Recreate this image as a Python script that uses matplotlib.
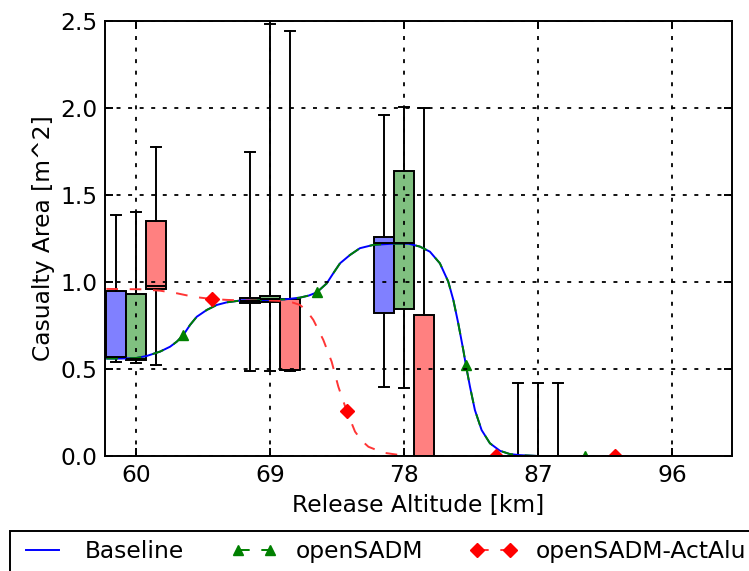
import numpy as np
import matplotlib
matplotlib.use("Agg")
import matplotlib.pyplot as plt

# box statistics per release altitude group
groups = [60, 69, 78, 87]
offset = 1.35

base_whislo = [0.542, 0.488, 0.395, 0.0]
base_q1 = [0.567, 0.877, 0.820, 0.0]
base_med = [0.570, 0.890, 1.222, 0.0]
base_q3 = [0.950, 0.910, 1.259, 0.0]
base_whishi = [1.385, 1.747, 1.958, 0.421]

sadm_whislo = [0.536, 0.488, 0.389, 0.0]
sadm_q1 = [0.552, 0.887, 0.843, 0.0]
sadm_med = [0.560, 0.900, 1.226, 0.0]
sadm_q3 = [0.931, 0.920, 1.636, 0.0]
sadm_whishi = [1.404, 2.481, 2.008, 0.421]

alu_whislo = [0.523, 0.488, 0.0, 0.0]
alu_q1 = [0.958, 0.494, 0.0, 0.0]
alu_med = [0.977, 0.494, 0.0, 0.0]
alu_q3 = [1.350, 0.902, 0.810, 0.0]
alu_whishi = [1.778, 2.443, 1.998, 0.421]

# smoothed median curves
curve_x = [58.0, 59.0, 60.0, 60.72, 61.61, 62.28, 62.73, 63.17, 63.62, 64.07,
           64.74, 65.42, 66.09, 66.98, 68.0, 69.0, 70.0, 71.0, 71.6, 72.13,
           72.8, 73.24, 73.69, 74.36, 75.03, 75.93, 77.27, 78.3, 79.06, 79.73,
           80.4, 80.96, 81.3, 81.63, 81.97, 82.15, 82.42, 82.75, 83.2, 83.76,
           84.43, 85.1, 85.77, 87.0, 90.15, 100.0]
base_y = [0.560, 0.560, 0.563, 0.575, 0.600, 0.628, 0.657, 0.695, 0.753, 0.800,
          0.839, 0.868, 0.883, 0.893, 0.895, 0.897, 0.900, 0.910, 0.922, 0.940,
          0.992, 1.050, 1.107, 1.155, 1.194, 1.213, 1.220, 1.220, 1.203, 1.174,
          1.107, 1.002, 0.897, 0.763, 0.609, 0.520, 0.398, 0.264, 0.149, 0.073,
          0.030, 0.011, 0.005, 0.0, 0.0, 0.0]
sadm_y = list(base_y)
sadm_marks = [7, 19, 35, 44]

alu_x = [58.0, 60.27, 61.6, 62.73, 63.4, 64.3, 65.1, 66.09, 67.0, 68.0,
         69.2, 70.0, 70.5, 71.0, 71.45, 71.9, 72.57, 73.13, 73.58, 74.14,
         74.7, 75.15, 75.6, 76.6, 77.5, 78.3, 84.15, 92.15, 100.0]
alu_y = [0.960, 0.958, 0.950, 0.935, 0.923, 0.910, 0.902, 0.897, 0.894, 0.893,
         0.893, 0.890, 0.882, 0.868, 0.835, 0.782, 0.667, 0.542, 0.398, 0.259,
         0.140, 0.088, 0.053, 0.019, 0.008, 0.0, 0.0, 0.0, 0.0]
alu_marks = [6, 19, 26, 27]


def make_stats(whislo, q1, med, q3, whishi):
    return [dict(whislo=a, q1=b, med=c, q3=d, whishi=e, fliers=[])
            for a, b, c, d, e in zip(whislo, q1, med, q3, whishi)]


FS = 16.8
LW = 1.4
plt.rcParams["font.family"] = "DejaVu Sans"
plt.rcParams["font.size"] = FS

fig = plt.figure(figsize=(7.49, 5.71), dpi=100)
ax = fig.add_axes([0.140, 0.2014, 0.837, 0.762])

box_sets = [
    (make_stats(base_whislo, base_q1, base_med, base_q3, base_whishi), -offset, "#8080ff"),
    (make_stats(sadm_whislo, sadm_q1, sadm_med, sadm_q3, sadm_whishi), 0.0, "#80c080"),
    (make_stats(alu_whislo, alu_q1, alu_med, alu_q3, alu_whishi), offset, "#ff8080"),
]
for stats, shift, fc in box_sets:
    ax.bxp(stats, positions=[g + shift for g in groups], widths=1.34,
           patch_artist=True, showfliers=False, manage_ticks=False,
           boxprops=dict(facecolor=fc, edgecolor="k", linewidth=LW),
           whiskerprops=dict(color="k", linewidth=LW, linestyle="-"),
           capprops=dict(color="k", linewidth=LW),
           medianprops=dict(color="k", linewidth=LW))

ax.plot(curve_x, base_y, color="blue", linewidth=LW, label="Baseline")
ax.plot(curve_x, sadm_y, color="green", linewidth=LW, dashes=(6, 6),
        marker="^", markersize=7.5, markevery=sadm_marks,
        markeredgecolor="green", label="openSADM")
ax.plot(alu_x, alu_y, color="#ff3535", linewidth=LW, dashes=(6, 6),
        marker="D", markersize=7.5, markevery=alu_marks,
        markerfacecolor="red", markeredgecolor="red", label="openSADM-ActAlu")

ax.set_xlim(57.9, 100.0)
ax.set_ylim(0, 2.5)
ax.set_xticks([60, 69, 78, 87, 96])
ax.set_yticks([0.0, 0.5, 1.0, 1.5, 2.0, 2.5])
ax.set_yticklabels(["%.1f" % v for v in [0.0, 0.5, 1.0, 1.5, 2.0, 2.5]])
ax.tick_params(direction="in", length=5.6, width=LW, pad=5.6,
               top=True, right=True, labelsize=FS)
for sp in ax.spines.values():
    sp.set_linewidth(LW)
ax.set_axisbelow(False)
ax.grid(True, color="k", linewidth=1.3, linestyle=(0, (2.2, 4.2)))

ax.set_xlabel("Release Altitude [km]", fontsize=FS)
ax.set_ylabel("Casualty Area [m^2]", fontsize=FS)
ax.xaxis.set_label_coords(0.5, -0.088)
ax.yaxis.set_label_coords(-0.079, 0.5)

handles, labels = ax.get_legend_handles_labels()
leg = fig.legend(handles, labels, loc="upper left",
                 bbox_to_anchor=(10 / 749, 1 - 531 / 571), borderaxespad=0,
                 ncol=3, numpoints=2, fontsize=FS, fancybox=False,
                 framealpha=1, edgecolor="k", handlelength=2.0,
                 handletextpad=0.8, columnspacing=2.0, borderpad=0.4)
leg.get_frame().set_linewidth(LW)

fig.savefig("out.png", dpi=100)
